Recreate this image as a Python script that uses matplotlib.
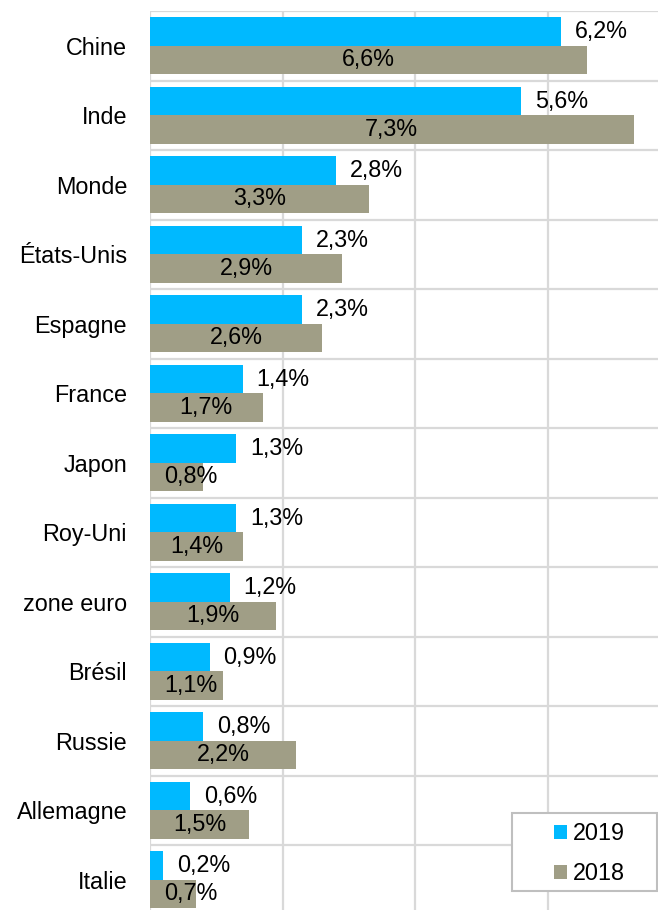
import matplotlib
matplotlib.use("Agg")
import matplotlib.pyplot as plt
from matplotlib.patches import Patch, Rectangle
import numpy as np

plt.rcParams['font.family'] = ['Liberation Sans', 'DejaVu Sans']

# growth rates, in %
countries = ["Chine", "Inde", "Monde", "États-Unis", "Espagne", "France", "Japon",
             "Roy-Uni", "zone euro", "Brésil", "Russie", "Allemagne", "Italie"]
growth_2019 = [6.2, 5.6, 2.8, 2.3, 2.3, 1.4, 1.3, 1.3, 1.2, 0.9, 0.8, 0.6, 0.2]
growth_2018 = [6.6, 7.3, 3.3, 2.9, 2.6, 1.7, 0.8, 1.4, 1.9, 1.1, 2.2, 1.5, 0.7]

blue = "#00B9FF"
olive = "#A09E86"
grid_c = "#D9D9D9"
fs = 16.8

W, H = 658, 910
fig = plt.figure(figsize=(W / 100, H / 100), dpi=100)
top_px, band_px = 11, 69.5
bot_px = top_px + band_px * len(countries)
left_px, right_px = 150, 680
ax = fig.add_axes([left_px / W, 1 - bot_px / H,
                   (right_px - left_px) / W, (bot_px - top_px) / H])

y = np.arange(len(countries))
h = 0.41
ax.barh(y - h / 2, growth_2019, height=h, color=blue, zorder=3)
ax.barh(y + h / 2, growth_2018, height=h, color=olive, zorder=3)

def fmt(v):
    return f"{v:.1f}%".replace(".", ",")

for yi, v in zip(y, growth_2019):
    ax.annotate(fmt(v), (v, yi - h / 2), xytext=(10, 0), textcoords="offset points",
                ha="left", va="center", fontsize=fs, zorder=4)
for yi, v in zip(y, growth_2018):
    ax.text(max(v / 2, 0.62), yi + h / 2, fmt(v), ha="center", va="center",
            fontsize=fs, zorder=4)

ax.set_xlim(0, 8)
ax.set_ylim(len(countries) - 0.5, -0.5)
ax.set_yticks(y)
ax.set_yticklabels(countries, fontsize=fs)
ax.tick_params(axis="y", length=0, pad=16.5)
ax.set_xticks([0, 2, 4, 6, 8])
ax.tick_params(axis="x", length=0, labelbottom=False)
ax.set_yticks(np.arange(-0.5, len(countries) + 0.5), minor=True)
ax.tick_params(axis="y", which="minor", length=0)
ax.grid(axis="x", which="major", color=grid_c, linewidth=1.6, zorder=0)
ax.grid(axis="y", which="minor", color=grid_c, linewidth=1.6, zorder=0)
for s in ("top", "right", "bottom", "left"):
    ax.spines[s].set_visible(False)

# legend box, drawn separately so the padding can be wider than the entries
box = Rectangle((512 / W, 1 - 891 / H), 145 / W, 78 / H, transform=fig.transFigure,
                facecolor="white", edgecolor="#BFBFBF", linewidth=1.5, zorder=5)
fig.patches.append(box)
handles = [Patch(facecolor=blue, label="2019"), Patch(facecolor=olive, label="2018")]
leg = fig.legend(handles=handles, loc="upper left",
                 bbox_to_anchor=(554 / W, 1 - 822 / H), fontsize=fs,
                 frameon=False, handlelength=0.57, handleheight=0.57,
                 handletextpad=0.25, labelspacing=0.75, borderpad=0,
                 borderaxespad=0)
leg.set_zorder(6)

fig.savefig("out.png", dpi=100)
